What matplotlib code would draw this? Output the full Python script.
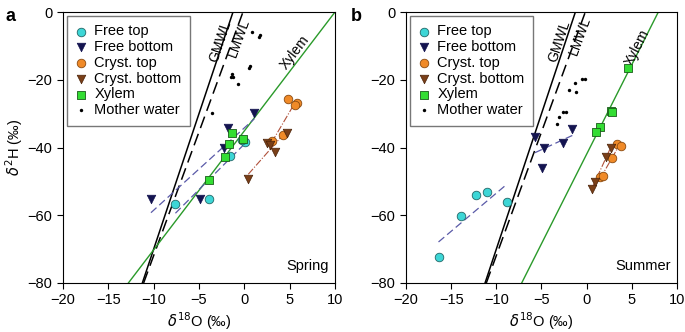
import numpy as np
import matplotlib
matplotlib.use('Agg')
import matplotlib.pyplot as plt

plt.rcParams['font.family'] = ['Liberation Sans', 'DejaVu Sans']
plt.rcParams['mathtext.fontset'] = 'dejavusans'
plt.rcParams['font.size'] = 10

# data panel a (spring)
a_free_top_x = [-7.6, -3.9, -1.6, 0.1, -0.3]
a_free_top_y = [-56.7, -55.2, -42.5, -38.5, -37.8]
a_free_bot_x = [-10.3, -4.9, -2.2, -1.8, 1.1]
a_free_bot_y = [-55.3, -55.3, -40.2, -34.3, -29.9]
a_cryst_top_x = [4.85, 5.77, 5.59, 4.23, 3.02]
a_cryst_top_y = [-25.8, -26.7, -27.5, -36.3, -38.0]
a_cryst_bot_x = [4.67, 2.46, 2.83, 3.38, 0.44]
a_cryst_bot_y = [-35.6, -38.8, -39.3, -41.2, -49.3]
a_xylem_x = [-1.4, -1.66, -2.13, -0.18, -3.86]
a_xylem_y = [-35.8, -39.1, -42.7, -37.6, -49.6]
a_mother_x = [0.88, 1.73, 1.62, 0.62, 0.51, -1.33, -1.47, -1.22, -0.67, -3.53]
a_mother_y = [-5.9, -6.8, -7.5, -15.8, -16.6, -18.3, -19.1, -19.3, -21.3, -29.9]

# data panel b (summer)
b_free_top_x = [-16.4, -13.95, -12.3, -11.0, -8.85]
b_free_top_y = [-72.2, -60.2, -54.1, -53.0, -56.0]
b_free_bot_x = [-5.72, -4.72, -2.58, -1.59, -4.98]
b_free_bot_y = [-36.8, -40.2, -38.8, -34.6, -46.1]
b_cryst_top_x = [3.4, 3.8, 2.8, 1.5, 1.8]
b_cryst_top_y = [-39.1, -39.4, -43.0, -48.8, -48.5]
b_cryst_bot_x = [2.7, 2.1, 0.9, 0.6]
b_cryst_bot_y = [-40.2, -42.7, -50.1, -52.3]
b_xylem_x = [4.6, 2.66, 2.8, 1.48, 1.0]
b_xylem_y = [-16.5, -29.1, -29.4, -34.0, -35.5]
b_mother_x = [-1.29, -0.48, -0.18, -1.92, -1.22, -2.58, -2.29, -3.03, -3.32]
b_mother_y = [-20.9, -19.8, -19.8, -23.0, -23.6, -29.5, -29.5, -31.1, -33.1]

# water lines: slope, intercept
gmwl = (8.0, 10.0)
lmwl = (7.3, 1.1)
xylem_a = (3.51, -35.1)
xylem_b = (5.29, -41.95)

labels = ['Free top', 'Free bottom', 'Cryst. top', 'Cryst. bottom', 'Xylem', 'Mother water']


def draw_line(ax, p, **kw):
    yy = np.array([-80.0, 0.0])
    xx = (yy - p[1]) / p[0]
    ax.plot(xx, yy, **kw)


def fit_line(ax, x, y, **kw):
    k, b = np.polyfit(x, y, 1)
    xx = np.array([min(x), max(x)])
    ax.plot(xx, k * xx + b, **kw)


def panel(ax, d, xyl, season, rot_x, gpos, lpos, xpos):
    draw_line(ax, gmwl, color='black', lw=1.1, zorder=2)
    draw_line(ax, lmwl, color='black', lw=1.1, dashes=(8, 4), zorder=2)
    draw_line(ax, xyl, color='#2a9a2a', lw=1.0, zorder=2)
    fit_line(ax, d[0], d[1], color='#5a5aa8', lw=0.9, dashes=(6, 3), zorder=2)
    fit_line(ax, d[2], d[3], color='#5a5aa8', lw=0.9, dashes=(6, 3), zorder=2)
    fit_line(ax, d[4], d[5], color='#b0503a', lw=0.8, ls='-.', zorder=2)
    fit_line(ax, d[6], d[7], color='#b0503a', lw=0.8, ls='-.', zorder=2)

    ax.scatter(d[0], d[1], s=38, marker='o', color='#3dd6d6', edgecolor='#226666', lw=0.6, zorder=4, label=labels[0])
    ax.scatter(d[2], d[3], s=38, marker='v', color='#141450', edgecolor='#141450', lw=0.5, zorder=4, label=labels[1])
    ax.scatter(d[4], d[5], s=38, marker='o', color='#f08a28', edgecolor='#8a4a10', lw=0.6, zorder=4, label=labels[2])
    ax.scatter(d[6], d[7], s=38, marker='v', color='#7a3f18', edgecolor='#4a2208', lw=0.5, zorder=4, label=labels[3])
    ax.scatter(d[8], d[9], s=34, marker='s', color='#33dd33', edgecolor='#1a5a1a', lw=0.6, zorder=4, label=labels[4])
    ax.scatter(d[10], d[11], s=6, marker='o', color='black', lw=0, zorder=4, label=labels[5])

    ax.text(gpos[0], gpos[1], 'GMWL', rotation=rot_x[0], ha='center', va='center', fontsize=10)
    ax.text(lpos[0], lpos[1], 'LMWL', rotation=rot_x[1], ha='center', va='center', fontsize=10)
    ax.text(xpos[0], xpos[1], 'Xylem', rotation=rot_x[2], ha='center', va='center', fontsize=10)
    ax.text(9.3, -75, season, ha='right', va='center', fontsize=10.5)

    ax.set_xlim(-20, 10)
    ax.set_ylim(-80, 0)
    ax.set_xticks([-20, -15, -10, -5, 0, 5, 10])
    ax.set_yticks([-80, -60, -40, -20, 0])
    ax.tick_params(direction='out', length=4, width=0.8, labelsize=10.5)
    ax.set_xlabel(r'$\delta^{18}$O (‰)', fontsize=10.5, labelpad=2)
    for s in ax.spines.values():
        s.set_linewidth(0.8)
    leg = ax.legend(loc='upper left', fancybox=False, edgecolor='#777777', framealpha=1,
                    handlelength=0.8, handletextpad=0.5, labelspacing=0.12,
                    borderaxespad=0.25, borderpad=0.6, fontsize=10.5, scatterpoints=1)
    leg.get_frame().set_linewidth(1.0)


fig = plt.figure(figsize=(6.85, 3.32), dpi=100)
ax1 = fig.add_axes([0.092, 0.1476, 0.397, 0.816])
ax2 = fig.add_axes([0.5927, 0.1476, 0.3956, 0.816])

da = [a_free_top_x, a_free_top_y, a_free_bot_x, a_free_bot_y, a_cryst_top_x, a_cryst_top_y,
      a_cryst_bot_x, a_cryst_bot_y, a_xylem_x, a_xylem_y, a_mother_x, a_mother_y]
db = [b_free_top_x, b_free_top_y, b_free_bot_x, b_free_bot_y, b_cryst_top_x, b_cryst_top_y,
      b_cryst_bot_x, b_cryst_bot_y, b_xylem_x, b_xylem_y, b_mother_x, b_mother_y]

panel(ax1, da, xylem_a, 'Spring', (71.5, 70, 52.7), (-2.6, -8.5), (-0.6, -7.5), (5.6, -12.0))
panel(ax2, db, xylem_b, 'Summer', (71.5, 70, 63.3), (-3.0, -8.5), (-0.7, -7.0), (5.6, -10.5))
ax1.set_ylabel(r'$\delta^{2}$H (‰)', fontsize=10.5, labelpad=2)

fig.text(0.008, 0.975, 'a', fontsize=13, fontweight='bold', va='top')
fig.text(0.512, 0.975, 'b', fontsize=13, fontweight='bold', va='top')

fig.savefig('out.png', dpi=100)
